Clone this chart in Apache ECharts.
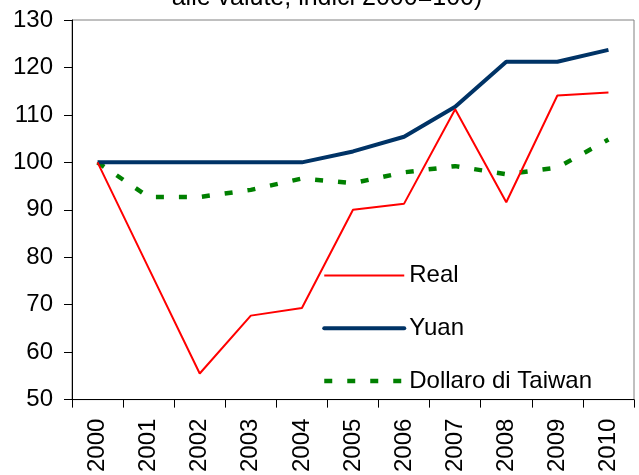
<!DOCTYPE html>
<html>
<head>
<meta charset="utf-8">
<script src="https://cdn.jsdelivr.net/npm/echarts@6/dist/echarts.min.js"></script>
<style>
html,body{margin:0;padding:0;background:#fff;}
#c{width:639px;height:475px;}
</style>
</head>
<body>
<div id="c"></div>
<script>
var years = ['2000','2001','2002','2003','2004','2005','2006','2007','2008','2009','2010'];
var real = [100, 77.7, 55.5, 67.7, 69.3, 90.0, 91.3, 111.2, 91.6, 114.1, 114.7];
var yuan = [100, 100, 100, 100, 100, 102.3, 105.4, 111.7, 121.2, 121.2, 123.7];
var taiwan = [100, 92.7, 92.7, 94.2, 96.6, 95.6, 97.9, 99.2, 97.5, 98.9, 104.8];
var yTicks = [50, 60, 70, 80, 90, 100, 110, 120, 130];
var titleText = 'alle valute, indici 2000=100)';

var FONT = '"Liberation Sans", Arial, sans-serif';
var chart = echarts.init(document.getElementById('c'), null, {renderer: 'canvas'});
chart.setOption({
  animation: false,
  backgroundColor: '#ffffff',
  graphic: [{
    type: 'text',
    x: 327,
    y: -2,
    style: {
      text: titleText,
      font: '25px ' + FONT,
      fill: '#000',
      textAlign: 'center',
      verticalAlign: 'middle'
    }
  }],
  grid: {left: 72, right: 5, top: 20, bottom: 74, show: true, borderColor: '#808080', borderWidth: 1, backgroundColor: 'transparent'},
  legend: {
    orient: 'vertical',
    left: 317,
    top: 258.5,
    itemWidth: 80,
    itemHeight: 20,
    itemGap: 28.7,
    itemStyle: {opacity: 0, borderWidth: 0},
    textStyle: {fontFamily: FONT, fontSize: 24, color: '#000'},
    data: [
      {name: 'Real', lineStyle: {width: 2}},
      {name: 'Yuan', lineStyle: {width: 4, cap: 'round'}},
      {name: 'Dollaro di Taiwan', lineStyle: {width: 4.5}}
    ]
  },
  xAxis: {
    type: 'category',
    data: years,
    boundaryGap: true,
    axisLine: {lineStyle: {color: '#000', width: 1}},
    axisTick: {show: true, length: 8, inside: false, lineStyle: {color: '#000'}},
    axisLabel: {rotate: 90, margin: 19, fontFamily: FONT, fontSize: 24, color: '#000'},
    splitLine: {show: false}
  },
  yAxis: {
    type: 'value',
    min: yTicks[0],
    max: yTicks[yTicks.length - 1],
    interval: 10,
    axisLine: {show: true, lineStyle: {color: '#000', width: 1}},
    axisTick: {show: true, length: 8, lineStyle: {color: '#000'}},
    axisLabel: {margin: 19, fontFamily: FONT, fontSize: 24, color: '#000'},
    splitLine: {show: false}
  },
  series: [
    {
      name: 'Real', type: 'line', data: real, symbol: 'none', showSymbol: false,
      lineStyle: {color: '#ff0000', width: 2}, itemStyle: {color: '#ff0000'}, z: 3
    },
    {
      name: 'Yuan', type: 'line', data: yuan, symbol: 'none', showSymbol: false,
      lineStyle: {color: '#003366', width: 4}, itemStyle: {color: '#003366'}, z: 2
    },
    {
      name: 'Dollaro di Taiwan', type: 'line', data: taiwan, symbol: 'none', showSymbol: false,
      lineStyle: {color: '#008000', width: 4.5, type: [8, 15], cap: 'butt'}, itemStyle: {color: '#008000'}, z: 1
    }
  ]
});
</script>
</body>
</html>
